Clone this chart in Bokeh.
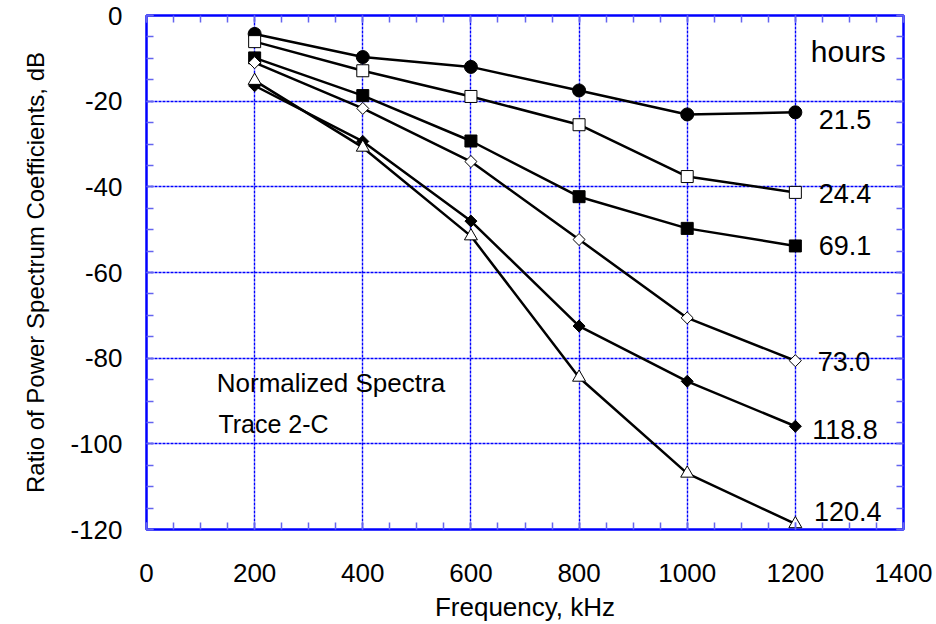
import math
from bokeh.plotting import figure
from bokeh.models import SingleIntervalTicker, LinearAxis, Range1d, Label, CustomJSTickFormatter
from bokeh.embed import file_html
from bokeh.resources import INLINE
from bokeh.core.properties import value

FONT = "Liberation Sans"

freq = [200, 400, 600, 800, 1000, 1200]
h21_5 = [-4.3, -9.7, -12.0, -17.5, -23.1, -22.6]
h24_4 = [-6.1, -12.9, -18.9, -25.5, -37.6, -41.3]
h69_1 = [-9.9, -18.7, -29.3, -42.3, -49.7, -53.8]
h73_0 = [-11.0, -21.7, -34.1, -52.3, -70.6, -80.6]
h118_8 = [-16.4, -29.4, -48.0, -72.5, -85.4, -95.9]
h120_4 = [-15.2, -30.8, -51.5, -84.5, -106.9, -118.7]

series_labels = ["21.5", "24.4", "69.1", "73.0", "118.8", "120.4"]
label_x = [1292, 1292, 1292, 1290, 1292, 1297]
label_y = [-24.3, -41.5, -53.8, -80.8, -96.6, -115.8]

BLUE = "#0000ff"
TICKBLUE = "#6464f0"

p = figure(width=936, height=624, x_range=Range1d(0, 1400), y_range=Range1d(-120, 0),
           output_backend="svg", toolbar_location=None,
           min_border_left=146, min_border_right=33, min_border_top=15, min_border_bottom=93,
           background_fill_color="white", border_fill_color="white")

xt = SingleIntervalTicker(interval=200, num_minor_ticks=4)
yt = SingleIntervalTicker(interval=20, num_minor_ticks=4)

num_fmt = CustomJSTickFormatter(code="return tick.toFixed(0);")


def style_axis(ax, ticker, labels=True):
    ax.ticker = ticker
    ax.axis_line_color = None
    ax.major_tick_in = 7
    ax.major_tick_out = 0
    ax.minor_tick_in = 7
    ax.minor_tick_out = 0
    ax.major_tick_line_color = TICKBLUE
    ax.minor_tick_line_color = TICKBLUE
    ax.major_tick_line_width = 1.5
    ax.minor_tick_line_width = 1.5
    if labels:
        ax.formatter = num_fmt
        ax.major_label_text_font = FONT
        ax.major_label_text_font_size = "26px"
        ax.major_label_text_color = "black"
        ax.axis_label_text_font = FONT
        ax.axis_label_text_font_style = "normal"
        ax.axis_label_text_color = "black"
    else:
        ax.formatter = CustomJSTickFormatter(code="return '';")
        ax.major_label_standoff = 0


xa = p.xaxis[0]
style_axis(xa, xt)
xa.axis_label = "Frequency, kHz"
xa.axis_label_text_font_size = "26px"
xa.major_label_standoff = 34
xa.axis_label_standoff = 7

ya = p.yaxis[0]
style_axis(ya, yt)
ya.axis_label = "Ratio of Power Spectrum Coefficients, dB"
ya.axis_label_text_font_size = "24px"
ya.major_label_standoff = 24
ya.axis_label_standoff = 18

top = LinearAxis()
style_axis(top, xt, labels=False)
p.add_layout(top, "above")
right = LinearAxis()
style_axis(right, yt, labels=False)
p.add_layout(right, "right")

for g, t in ((p.xgrid[0], xt), (p.ygrid[0], yt)):
    g.ticker = t
    g.grid_line_color = BLUE
    g.grid_line_dash = "3 1"
    g.grid_line_width = 1.4
    g.grid_line_alpha = 1

p.outline_line_color = BLUE
p.outline_line_width = 2.5
p.outline_line_alpha = 1

series = [
    (h21_5, "circle", 0, 13, "black"),
    (h24_4, "square", 0, 12, "white"),
    (h69_1, "square", 0, 12, "black"),
    (h73_0, "square", math.pi / 4, 8.5, "white"),
    (h118_8, "square", math.pi / 4, 8.5, "black"),
    (h120_4, "triangle", 0, 13, "white"),
]

for vals, marker, ang, size, fill in series:
    p.line(freq, vals, line_color="black", line_width=2.5)
    p.scatter(freq, vals, marker=marker, angle=ang, size=size, fill_color=fill,
              line_color="black", line_width=1)

p.text(x=label_x, y=label_y, text=series_labels, text_font=value(FONT),
       text_font_size="27px", text_align="center", text_baseline="middle",
       text_color="black")

p.add_layout(Label(x=1298, y=-8.5, text="hours", text_font=FONT, text_font_size="30px",
                   text_align="center", text_baseline="middle", text_color="black"))
p.add_layout(Label(x=130, y=-85.8, text="Normalized Spectra", text_font=FONT,
                   text_font_size="26px", text_align="left", text_baseline="middle",
                   text_color="black"))
p.add_layout(Label(x=133, y=-95.3, text="Trace 2-C", text_font=FONT,
                   text_font_size="25px", text_align="left", text_baseline="middle",
                   text_color="black"))

open("out.html", "w").write(file_html(p, INLINE))
